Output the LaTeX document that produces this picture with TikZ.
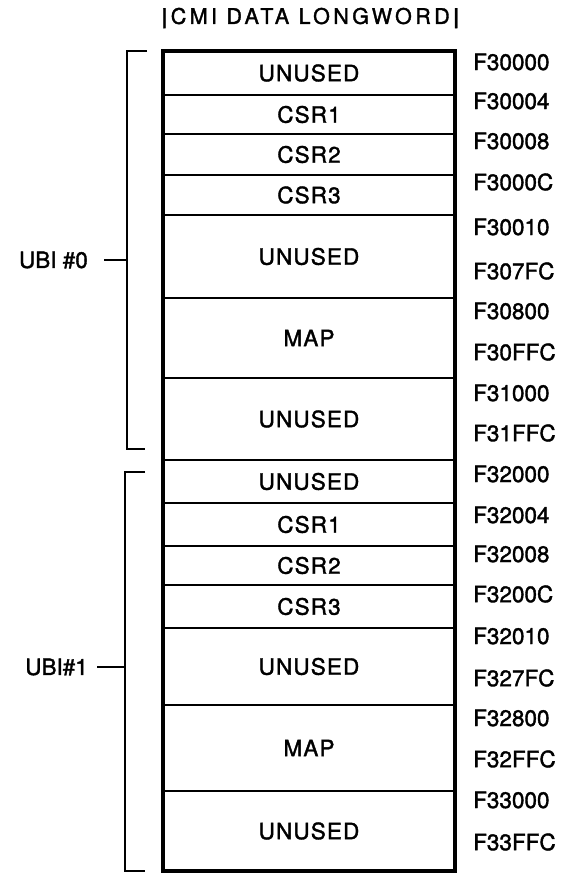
\documentclass[tikz,border=0pt]{standalone}
\usepackage{fontspec}
\setmainfont{TeX Gyre Heros}[FakeBold=1.6]
\usetikzlibrary{positioning}

\begin{document}
\begin{tikzpicture}[
  x=1pt, y=-1pt,
  font=\fontsize{22.5}{26}\selectfont,
  node distance=0pt,
  cell/.style={draw, line width=2.5pt, minimum width=292pt, inner sep=0pt, outer sep=0pt,
    font=\fontsize{22.5}{26}\selectfont\addfontfeature{LetterSpace=5}},
  addr/.style={anchor=west, inner sep=0pt},
  ubi/.style={anchor=east, inner sep=0pt},
  brace/.style={line width=2pt}
]
\useasboundingbox (0,0) rectangle (566,873);

\node[font=\fontsize{21.5}{24}\selectfont\addfontfeature{LetterSpace=16}] (title) at (312,18)
  {\textbf{|}CMI DATA LONGWORD\textbf{|}};

% UBI #0 window
\node[cell, minimum height=44pt, anchor=north] (u0a) at (309,51) {UNUSED};
\node[cell, minimum height=39pt, below=of u0a] (u0b) {CSR1};
\node[cell, minimum height=41pt, below=of u0b] (u0c) {CSR2};
\node[cell, minimum height=40pt, below=of u0c] (u0d) {CSR3};
\node[cell, minimum height=83pt, below=of u0d] (u0e) {UNUSED};
\node[cell, minimum height=80pt, below=of u0e] (u0f) {MAP};
\node[cell, minimum height=82pt, below=of u0f] (u0g) {UNUSED};

% UBI #1 window
\node[cell, minimum height=43pt, below=of u0g] (u1a) {UNUSED};
\node[cell, minimum height=43pt, below=of u1a] (u1b) {CSR1};
\node[cell, minimum height=39pt, below=of u1b] (u1c) {CSR2};
\node[cell, minimum height=43pt, below=of u1c] (u1d) {CSR3};
\node[cell, minimum height=77pt, below=of u1d] (u1e) {UNUSED};
\node[cell, minimum height=86pt, below=of u1e] (u1f) {MAP};
\node[cell, minimum height=80pt, below=of u1f] (u1g) {UNUSED};

% heavy outline
\draw[line width=4.5pt] (u0a.north west) rectangle (u1g.south east);

% addresses
\foreach \y/\a in {62/F30000, 101/F30004, 141/F30008, 182/F3000C, 227/F30010,
                   271/F307FC, 311/F30800, 352/F30FFC, 393/F31000, 433/F31FFC,
                   474/F32000, 515/F32004, 554/F32008, 594/F3200C, 636/F32010,
                   678/F327FC, 718/F32800, 759/F32FFC, 800/F33000, 842/F33FFC}
  \node[addr] (a\y) at (473,\y) {\a};

% brackets
\draw[brace] (147,51) -| (127,449) -- (145,449);
\draw[brace] (104,260) -- (127,260);
\node[ubi] (ubi0) at (88,260) {UBI \#0};

\draw[brace] (145,472) -| (125,871) -- (145,871);
\draw[brace] (97,667) -- (125,667);
\node[ubi] (ubi1) at (88,667) {UBI\#1};
\end{tikzpicture}
\end{document}
